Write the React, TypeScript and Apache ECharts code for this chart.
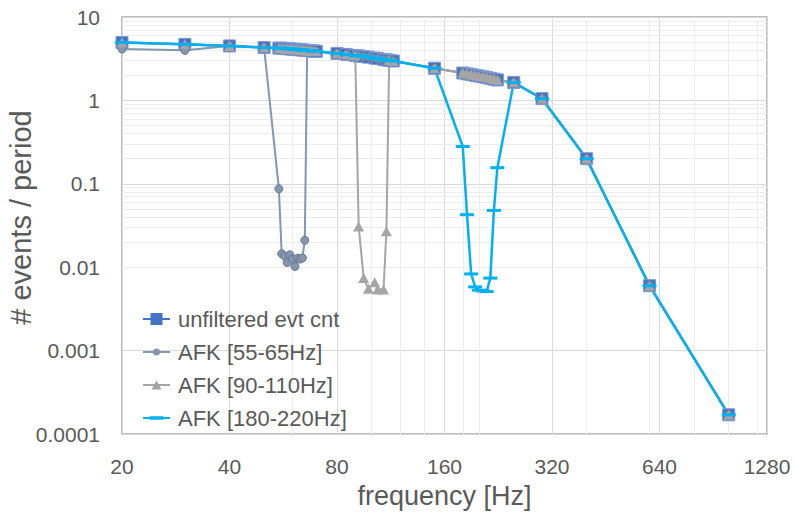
import React, { useEffect, useRef } from "react";
import * as echarts from "echarts";

const FONT = "'Liberation Sans', Arial, Helvetica, sans-serif";
const TEXT_COLOR = "#595959";

// axis ticks
const X_BASE = 20;
const X_TICKS = [20, 40, 80, 160, 320, 640, 1280];
const Y_TICKS = [0.0001, 0.001, 0.01, 0.1, 1, 10];
// minor gridlines seen in the reference
const X_MINOR = [60, 100, 120, 140, 180, 200, 400, 600, 800, 1000, 1200];
const Y_MINOR_STEPS = [2, 3, 4, 5, 6, 7, 8, 9];

// frequencies [Hz]
const FREQ = [
  20, 30, 40, 50,
  55, 56, 57, 58, 59, 60, 61, 62, 63, 64, 65, 66, 67, 68, 69, 70,
  80, 85, 90, 92, 95, 98, 102, 104, 108, 110, 112, 115,
  150,
  180, 185, 190, 195, 200, 205, 210, 215, 220, 225,
  250, 300, 400, 600, 1000,
];

const UNFILTERED = [
  4.95, 4.7, 4.5, 4.3,
  4.24, 4.22, 4.2, 4.17, 4.15, 4.12, 4.1, 4.07, 4.05, 4.02, 4.0, 3.97, 3.95, 3.93, 3.9, 3.88,
  3.66, 3.56, 3.46, 3.42, 3.36, 3.3, 3.22, 3.18, 3.1, 3.06, 3.02, 2.97,
  2.43,
  2.13, 2.08, 2.04, 2.0, 1.96, 1.92, 1.88, 1.84, 1.8, 1.76,
  1.64, 1.05, 0.2, 0.006, 0.00017,
];

const AFK_55_65 = [
  4.13, 3.98, 4.5, 4.3,
  0.087, 0.0145, 0.0137, 0.0114, 0.0141, 0.0125, 0.0102, 0.0128, 0.0125, 0.0129, 0.021, 3.97, 3.95, 3.93, 3.9, 3.88,
  3.66, 3.56, 3.46, 3.42, 3.36, 3.3, 3.22, 3.18, 3.1, 3.06, 3.02, 2.97,
  2.43,
  2.13, 2.08, 2.04, 2.0, 1.96, 1.92, 1.88, 1.84, 1.8, 1.76,
  1.64, 1.05, 0.2, 0.006, 0.00017,
];

const AFK_90_110 = [
  4.95, 4.7, 4.5, 4.3,
  4.24, 4.22, 4.2, 4.17, 4.15, 4.12, 4.1, 4.07, 4.05, 4.02, 4.0, 3.97, 3.95, 3.93, 3.9, 3.88,
  3.66, 3.56, 3.46, 0.0308, 0.0074, 0.0055, 0.0066, 0.0054, 0.0054, 0.0269, 3.02, 2.97,
  2.43,
  2.13, 2.08, 2.04, 2.0, 1.96, 1.92, 1.88, 1.84, 1.8, 1.76,
  1.64, 1.05, 0.2, 0.006, 0.00017,
];

const AFK_180_220 = [
  4.95, 4.7, 4.5, 4.3,
  4.24, 4.22, 4.2, 4.17, 4.15, 4.12, 4.1, 4.07, 4.05, 4.02, 4.0, 3.97, 3.95, 3.93, 3.9, 3.88,
  3.66, 3.56, 3.46, 3.42, 3.36, 3.3, 3.22, 3.18, 3.1, 3.06, 3.02, 2.97,
  2.43,
  0.28, 0.0426, 0.0083, 0.0058, 0.0053, 0.0052, 0.0051, 0.0074, 0.048, 0.156,
  1.64, 1.05, 0.2, 0.006, 0.00017,
];

const NAMES = [
  "unfiltered evt cnt",
  "AFK [55-65Hz]",
  "AFK [90-110Hz]",
  "AFK [180-220Hz]",
];

const toData = (vals: number[]) => FREQ.map((f, i) => [f / X_BASE, vals[i]]);

function buildOption(): any {
  const yMinor: any[] = [];
  for (let d = 0; d < Y_TICKS.length - 1; d++) {
    for (const s of Y_MINOR_STEPS) yMinor.push({ yAxis: Y_TICKS[d] * s });
  }
  const xMinor = X_MINOR.map((f) => ({ xAxis: f / X_BASE }));

  return {
    animation: false,
    backgroundColor: "#ffffff",
    textStyle: { fontFamily: FONT },
    grid: {
      left: 122,
      right: 29,
      top: 17,
      bottom: 92,
      show: true,
      borderColor: "#A6A6A6",
      borderWidth: 1.5,
      backgroundColor: "transparent",
      containLabel: false,
      outerBoundsMode: "none",
    },
    legend: {
      orient: "vertical",
      left: 143,
      top: 308,
      padding: 0,
      itemGap: 11,
      itemWidth: 27,
      itemHeight: 14,
      selectedMode: false,
      itemStyle: { borderWidth: 0 },
      textStyle: {
        fontFamily: FONT,
        fontSize: 22,
        lineHeight: 22,
        color: TEXT_COLOR,
        padding: [0, 0, 0, 3],
      },
      data: [
        { name: NAMES[0], icon: "path://M0,6H27V8H0Z M7.5,1H19.5V13H7.5Z" },
        { name: NAMES[1], icon: "path://M0,6H27V8H0Z M10,7A3.5,3.5 0 1 1 17,7A3.5,3.5 0 1 1 10,7Z" },
        { name: NAMES[2], icon: "path://M0,6H27V8H0Z M13.5,2.5L18.5,11.5H8.5Z" },
        { name: NAMES[3], icon: "path://M0,6H27V8H0Z M6.5,5.3H20.5V8.7H6.5Z" },
      ],
    },
    xAxis: {
      type: "log",
      logBase: 2,
      min: X_TICKS[0] / X_BASE,
      max: X_TICKS[X_TICKS.length - 1] / X_BASE,
      splitNumber: 6,
      axisLine: { show: false },
      axisTick: { show: false },
      axisLabel: {
        fontFamily: FONT,
        fontSize: 21,
        color: TEXT_COLOR,
        margin: 22,
        showMinLabel: true,
        showMaxLabel: true,
        formatter: (v: number) => {
          const t = X_TICKS.find((x) => Math.abs(Math.log2(x / X_BASE) - Math.log2(v)) < 0.01);
          return t === undefined ? "" : String(t);
        },
      },
      splitLine: { show: true, lineStyle: { color: "#D9D9D9", width: 1 } },
      name: "frequency [Hz]",
      nameLocation: "middle",
      nameGap: 48,
      nameMoveOverlap: false,
      nameTextStyle: { fontFamily: FONT, fontSize: 27, color: TEXT_COLOR },
    },
    yAxis: {
      type: "log",
      logBase: 10,
      min: Y_TICKS[0],
      max: Y_TICKS[Y_TICKS.length - 1],
      splitNumber: 5,
      axisLine: { show: false },
      axisTick: { show: false },
      axisLabel: {
        fontFamily: FONT,
        fontSize: 21,
        color: TEXT_COLOR,
        margin: 22,
        showMinLabel: true,
        showMaxLabel: true,
        formatter: (v: number) => {
          const t = Y_TICKS.find((y) => Math.abs(Math.log10(y) - Math.log10(v)) < 0.01);
          return t === undefined ? "" : String(t);
        },
      },
      splitLine: { show: true, lineStyle: { color: "#D9D9D9", width: 1 } },
      name: "# events / period",
      nameLocation: "middle",
      nameGap: 87,
      nameRotate: 90,
      nameMoveOverlap: false,
      nameTextStyle: { fontFamily: FONT, fontSize: 29, color: TEXT_COLOR, padding: [0, 0, 0, 16] },
    },
    series: [
      {
        type: "line",
        name: "_minorGrid",
        data: [],
        silent: true,
        z: 1,
        markLine: {
          silent: true,
          z: 1,
          symbol: ["none", "none"],
          label: { show: false },
          emphasis: { disabled: true },
          lineStyle: { color: "#EDEDED", width: 1, type: "solid" },
          data: [...yMinor, ...xMinor],
        },
      },
      {
        type: "line",
        name: NAMES[0],
        data: toData(UNFILTERED),
        symbol: "rect",
        symbolSize: 12,
        lineStyle: { color: "#4472C4", width: 2.25 },
        itemStyle: { color: "#4472C4", borderColor: "#7E9BD4", borderWidth: 1 },
      },
      {
        type: "line",
        name: NAMES[1],
        data: toData(AFK_55_65),
        symbol: "circle",
        symbolSize: 8,
        lineStyle: { color: "#8497B0", width: 2 },
        itemStyle: { color: "#8497B0", borderColor: "#67788F", borderWidth: 1 },
      },
      {
        type: "line",
        name: NAMES[2],
        data: toData(AFK_90_110),
        symbol: "triangle",
        symbolSize: [11, 10],
        lineStyle: { color: "#A5A5A5", width: 2 },
        itemStyle: { color: "#A5A5A5" },
      },
      {
        type: "line",
        name: NAMES[3],
        data: toData(AFK_180_220),
        symbol: "rect",
        symbolSize: [14, 3],
        lineStyle: { color: "#00B0F0", width: 2.5 },
        itemStyle: { color: "#00B0F0" },
      },
    ],
  };
}

export default function App() {
  const ref = useRef<HTMLDivElement>(null);
  useEffect(() => {
    if (!ref.current) return;
    const chart = echarts.init(ref.current, undefined, { renderer: "svg" });
    chart.setOption(buildOption());
    return () => chart.dispose();
  }, []);
  return (
    <div
      ref={ref}
      style={{ position: "fixed", left: 0, top: 0, width: 796, height: 526, background: "#fff" }}
    />
  );
}
